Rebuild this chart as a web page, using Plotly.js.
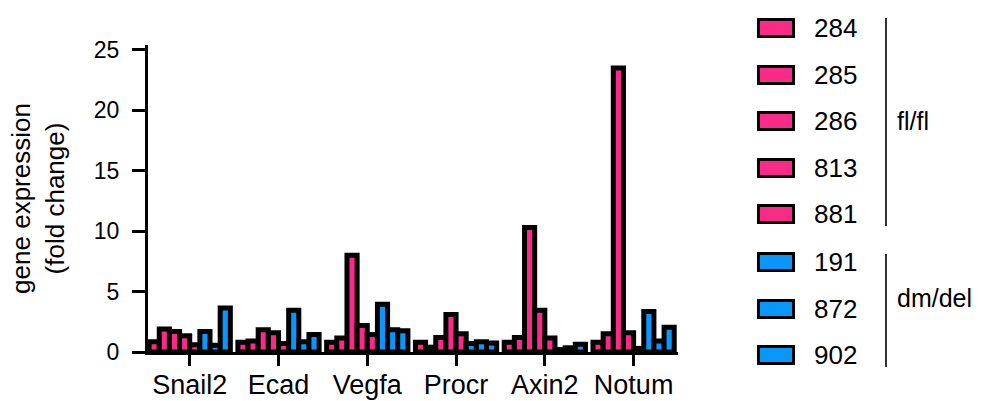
<!DOCTYPE html>
<html>
<head>
<meta charset="utf-8">
<script src="https://cdn.plot.ly/plotly-3.0.1.min.js"></script>
<style>html,body{margin:0;padding:0;background:#fff;}#chart{width:982px;height:401px;}</style>
</head>
<body>
<div id="chart"></div>
<script>
// ---- data ----
const genes = ['Snail2', 'Ecad', 'Vegfa', 'Procr', 'Axin2', 'Notum'];
const mice = ['284', '285', '286', '813', '881', '191', '872', '902'];
const genotype = ['fl/fl', 'fl/fl', 'fl/fl', 'fl/fl', 'fl/fl', 'dm/del', 'dm/del', 'dm/del'];
const v284 = [0.85, 0.8, 0.8, 0.8, 0.8, 0.8];
const v285 = [1.9, 0.9, 1.15, 0.4, 1.2, 1.5];
const v286 = [1.7, 1.85, 8.0, 1.2, 10.3, 23.5];
const v813 = [1.35, 1.6, 2.2, 3.1, 3.45, 1.6];
const v881 = [0.6, 0.7, 1.45, 1.5, 1.15, 0.3];
const v191 = [1.7, 3.45, 3.95, 0.7, 0.2, 3.35];
const v872 = [0.55, 0.85, 1.85, 0.85, 0.35, 0.9];
const v902 = [3.65, 1.45, 1.75, 0.75, 0.65, 2.05];
const seriesValues = [v284, v285, v286, v813, v881, v191, v872, v902];
const yTicks = [0, 5, 10, 15, 20, 25];

// ---- style ----
const colors = {'fl/fl': '#FA2A87', 'dm/del': '#0A96FA'};
const FONT = 'Liberation Sans, Arial, sans-serif';
const W = 982, H = 401;
const M = {l: 148, r: 304, t: 45, b: 49};
const PW = W - M.l - M.r, PH = H - M.t - M.b;
const px2x = p => (p - M.l) / PW;
const py2y = p => (H - M.b - p) / PH;

const traces = mice.map((m, i) => ({
  type: 'bar',
  name: m,
  x: genes,
  y: seriesValues[i],
  marker: {color: colors[genotype[i]], line: {color: '#000', width: 5}},
  showlegend: false,
  hoverinfo: 'x+y+name'
}));

// custom legend (patches + labels + group brackets)
const shapes = [];
const annotations = [];
const legendY = [28, 75, 121, 168, 214, 262, 309, 355];
mice.forEach((m, i) => {
  const cy = legendY[i];
  shapes.push({type: 'rect', xref: 'paper', yref: 'paper',
    x0: px2x(758.5), x1: px2x(793.5), y0: py2y(cy - 8.5), y1: py2y(cy + 8.5),
    fillcolor: colors[genotype[i]], line: {color: '#000', width: 3}});
  annotations.push({xref: 'paper', yref: 'paper', x: px2x(812), y: py2y(cy),
    xanchor: 'left', yanchor: 'middle', text: m, showarrow: false,
    font: {family: FONT, size: 26, color: '#000'}});
});
const groups = [
  {name: 'fl/fl', y0: 18, y1: 226, ty: 121},
  {name: 'dm/del', y0: 254, y1: 367, ty: 298}
];
groups.forEach(g => {
  shapes.push({type: 'line', xref: 'paper', yref: 'paper',
    x0: px2x(886), x1: px2x(886), y0: py2y(g.y0), y1: py2y(g.y1),
    line: {color: '#333', width: 2}});
  annotations.push({xref: 'paper', yref: 'paper', x: px2x(895), y: py2y(g.ty),
    xanchor: 'left', yanchor: 'middle', text: g.name, showarrow: false,
    font: {family: FONT, size: 25, color: '#000'}});
});

const layout = {
  width: W, height: H,
  margin: M,
  paper_bgcolor: '#fff', plot_bgcolor: '#fff',
  barmode: 'group', bargap: 0.085, bargroupgap: 0,
  font: {family: FONT, color: '#000'},
  xaxis: {
    range: [-0.47, 5.5],
    showline: true, linecolor: '#000', linewidth: 3,
    ticks: 'outside', ticklen: 11, tickwidth: 3, tickcolor: '#000',
    ticklabelstandoff: -4,
    tickfont: {family: FONT, size: 27, color: '#000'},
    showgrid: false, zeroline: false, fixedrange: true
  },
  yaxis: {
    range: [0, 25.4],
    tickvals: yTicks,
    showline: true, linecolor: '#000', linewidth: 3,
    ticks: 'outside', ticklen: 13, tickwidth: 3, tickcolor: '#000',
    ticklabelstandoff: 8,
    tickfont: {family: FONT, size: 23, color: '#000'},
    showgrid: false, zeroline: false, fixedrange: true,
    title: {text: 'gene expression<br>(fold change)', standoff: 22,
      font: {family: FONT, size: 26, color: '#000'}}
  },
  shapes: shapes,
  annotations: annotations,
  showlegend: false
};

Plotly.newPlot('chart', traces, layout, {displayModeBar: false, staticPlot: true});
</script>
</body>
</html>
